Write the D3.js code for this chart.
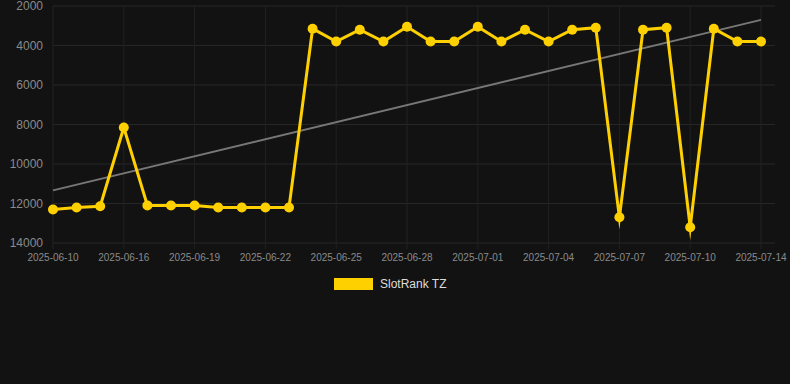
<!DOCTYPE html>
<html>
<head>
<meta charset="utf-8">
<script src="https://cdn.jsdelivr.net/npm/d3@7"></script>
<style>
  html, body { margin: 0; padding: 0; background: #121212; }
  svg { display: block; font-family: "Liberation Sans", Arial, sans-serif; }
</style>
</head>
<body>
<div id="chart"></div>
<script>
const dates = [
  "2025-06-10", "2025-06-12", "2025-06-14", "2025-06-16", "2025-06-17", "2025-06-18",
  "2025-06-19", "2025-06-20", "2025-06-21", "2025-06-22", "2025-06-23", "2025-06-24",
  "2025-06-25", "2025-06-26", "2025-06-27", "2025-06-28", "2025-06-29", "2025-06-30",
  "2025-07-01", "2025-07-02", "2025-07-03", "2025-07-04", "2025-07-05", "2025-07-06",
  "2025-07-07", "2025-07-08", "2025-07-09", "2025-07-10", "2025-07-12", "2025-07-13",
  "2025-07-14"
];
const ranks = [
  12300, 12200, 12140, 8150, 12100, 12100,
  12100, 12200, 12200, 12200, 12200, 3150,
  3800, 3200, 3800, 3050, 3800, 3800,
  3050, 3800, 3200, 3800, 3200, 3100,
  12700, 3200, 3100, 13200, 3150, 3800,
  3800
];
const yTicks = [2000, 4000, 6000, 8000, 10000, 12000, 14000];
const seriesName = "SlotRank TZ";

const W = 790, H = 384;
const margin = {top: 6, right: 15, bottom: 141, left: 53};
const width = W - margin.left - margin.right;
const height = H - margin.top - margin.bottom;

const svg = d3.select("#chart").append("svg")
  .attr("width", W)
  .attr("height", H);

svg.append("rect").attr("width", W).attr("height", H).attr("fill", "#121212");

const g = svg.append("g")
  .attr("transform", "translate(" + margin.left + "," + margin.top + ")");

const x = d3.scalePoint()
  .domain(dates)
  .range([0, width - 14]);

const y = d3.scaleLinear()
  .domain([2000, 14000])
  .range([0, height]);

const tickDates = dates.filter((d, i) => i % 3 === 0);

// grid
g.append("g")
  .selectAll("line")
  .data(yTicks)
  .join("line")
  .attr("x1", 0)
  .attr("x2", width)
  .attr("y1", d => y(d))
  .attr("y2", d => y(d))
  .attr("stroke", "#262626")
  .attr("stroke-width", 1);

g.append("g")
  .selectAll("line")
  .data(tickDates)
  .join("line")
  .attr("x1", d => x(d))
  .attr("x2", d => x(d))
  .attr("y1", 0)
  .attr("y2", height + 6)
  .attr("stroke", "#222")
  .attr("stroke-width", 1);

// y axis labels
g.append("g")
  .selectAll("text")
  .data(yTicks)
  .join("text")
  .attr("x", -10)
  .attr("y", d => y(d))
  .attr("dy", "0.35em")
  .attr("text-anchor", "end")
  .attr("fill", "#8a8a8a")
  .style("font-size", "12px")
  .text(d => d);

// x axis labels
g.append("g")
  .selectAll("text")
  .data(tickDates)
  .join("text")
  .attr("x", d => x(d))
  .attr("y", height + 18)
  .attr("text-anchor", "middle")
  .attr("fill", "#8a8a8a")
  .style("font-size", "10px")
  .text(d => d);

// trend line (least squares on index)
const n = ranks.length;
const xs = d3.range(n);
const mx = d3.mean(xs), my = d3.mean(ranks);
const slope = d3.sum(xs, i => (i - mx) * (ranks[i] - my)) / d3.sum(xs, i => (i - mx) * (i - mx));
const icpt = my - slope * mx;

g.append("line")
  .attr("x1", x(dates[0]))
  .attr("y1", y(icpt))
  .attr("x2", x(dates[n - 1]))
  .attr("y2", y(icpt + slope * (n - 1)))
  .attr("stroke", "#777")
  .attr("stroke-width", 2);

// series line
g.append("path")
  .datum(ranks)
  .attr("fill", "none")
  .attr("stroke", "#FFD000")
  .attr("stroke-width", 3)
  .attr("stroke-linejoin", "miter")
  .attr("stroke-miterlimit", 10)
  .attr("d", d3.line()
    .x((d, i) => x(dates[i]))
    .y(d => y(d))
  );

g.append("g")
  .selectAll("circle")
  .data(ranks)
  .join("circle")
  .attr("cx", (d, i) => x(dates[i]))
  .attr("cy", d => y(d))
  .attr("r", 5)
  .attr("fill", "#FFD000");

// legend
svg.append("rect")
  .attr("x", 334)
  .attr("y", 278)
  .attr("width", 39)
  .attr("height", 12)
  .attr("fill", "#FFD000");
svg.append("text")
  .attr("x", 380)
  .attr("y", 284)
  .attr("dy", "0.35em")
  .attr("fill", "#dddddd")
  .style("font-size", "12px")
  .text(seriesName);
</script>
</body>
</html>
